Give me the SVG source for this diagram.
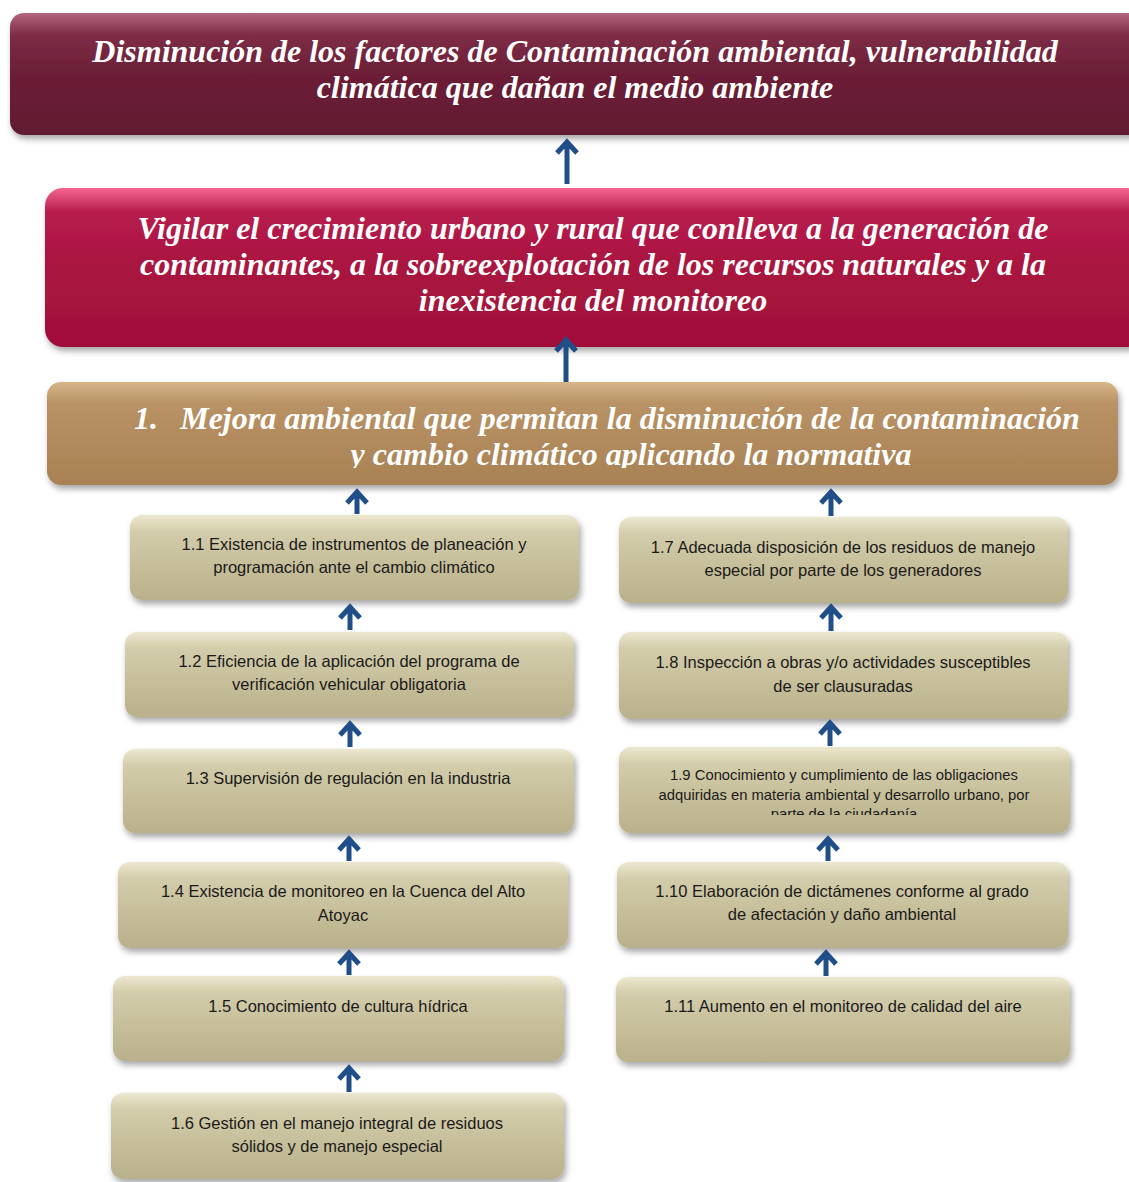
<svg xmlns="http://www.w3.org/2000/svg" width="1129" height="1182" viewBox="0 0 1129 1182">
<defs>
<linearGradient id="gTop" x1="0" y1="0" x2="0" y2="1">
<stop offset="0" stop-color="#b4677e"/><stop offset="0.18" stop-color="#7d2d46"/><stop offset="0.5" stop-color="#6c1f37"/><stop offset="1" stop-color="#611a31"/>
</linearGradient>
<linearGradient id="gMid" x1="0" y1="0" x2="0" y2="1">
<stop offset="0" stop-color="#f5668f"/><stop offset="0.15" stop-color="#b71c4d"/><stop offset="0.5" stop-color="#a9153f"/><stop offset="1" stop-color="#a10f3b"/>
</linearGradient>
<linearGradient id="gObj" x1="0" y1="0" x2="0" y2="1">
<stop offset="0" stop-color="#d7b68a"/><stop offset="0.2" stop-color="#b99366"/><stop offset="0.6" stop-color="#b08a5c"/><stop offset="1" stop-color="#a88254"/>
</linearGradient>
<linearGradient id="gAct" x1="0" y1="0" x2="0" y2="1">
<stop offset="0" stop-color="#ece8cf"/><stop offset="0.2" stop-color="#d3ccaa"/><stop offset="0.6" stop-color="#c6be99"/><stop offset="1" stop-color="#b9b08c"/>
</linearGradient>
<filter id="sh" x="-5%" y="-10%" width="110%" height="130%">
<feDropShadow dx="2" dy="4" stdDeviation="3" flood-color="#000" flood-opacity="0.35"/>
</filter>
<clipPath id="c3"><rect x="47" y="382" width="1071" height="86"/></clipPath>
<clipPath id="c9"><rect x="619" y="747" width="451" height="68"/></clipPath>
</defs>
<style>
.big{font-family:"Liberation Serif","Times New Roman",serif;font-weight:bold;font-style:italic;fill:#fff;text-anchor:middle;font-size:32px}
.num{text-anchor:start}
.act{font-family:"Liberation Sans",Arial,sans-serif;font-size:16.5px;fill:#1a1a1a;text-anchor:middle}
.sm{font-size:14.8px}
.box{filter:url(#sh)}
.arr{stroke:#1f4e89;stroke-width:5;fill:none;stroke-linecap:butt;stroke-linejoin:miter}
</style>

<g id="fin">
<rect class="box" x="10" y="13" width="1135" height="122" rx="14" fill="url(#gTop)"/>
<text class="big" x="575" y="62">Disminución de los factores de Contaminación ambiental, vulnerabilidad</text>
<text class="big" x="575" y="98">climática que dañan el medio ambiente</text>
</g>

<g id="proposito">
<rect class="box" x="45" y="188" width="1100" height="159" rx="18" fill="url(#gMid)"/>
<text class="big" x="593" y="239">Vigilar el crecimiento urbano y rural que conlleva a la generación de</text>
<text class="big" x="593" y="275">contaminantes, a la sobreexplotación de los recursos naturales y a la</text>
<text class="big" x="593" y="311">inexistencia del monitoreo</text>
</g>

<g id="componente1">
<rect class="box" x="47" y="382" width="1071" height="103" rx="14" fill="url(#gObj)"/>
<g clip-path="url(#c3)">
<text class="big num" x="134" y="429">1.</text>
<text class="big" x="630" y="429">Mejora ambiental que permitan la disminución de la contaminación</text>
<text class="big" x="631" y="465">y cambio climático aplicando la normativa</text>
</g>
</g>

<g id="a11">
<rect class="box" x="130" y="515" width="449" height="85" rx="12" fill="url(#gAct)"/>
<text class="act" x="354" y="550">1.1 Existencia de instrumentos de planeación y</text>
<text class="act" x="354" y="573">programación ante el cambio climático</text>
</g>
<g id="a12">
<rect class="box" x="125" y="632" width="449" height="85" rx="12" fill="url(#gAct)"/>
<text class="act" x="349" y="667">1.2 Eficiencia de la aplicación del programa de</text>
<text class="act" x="349" y="690">verificación vehicular obligatoria</text>
</g>
<g id="a13">
<rect class="box" x="123" y="749" width="451" height="84" rx="12" fill="url(#gAct)"/>
<text class="act" x="348" y="784">1.3 Supervisión de regulación en la industria</text>
</g>
<g id="a14">
<rect class="box" x="118" y="862" width="450" height="86" rx="12" fill="url(#gAct)"/>
<text class="act" x="343" y="897">1.4 Existencia de monitoreo en la Cuenca del Alto</text>
<text class="act" x="343" y="921">Atoyac</text>
</g>
<g id="a15">
<rect class="box" x="113" y="976" width="451" height="85" rx="12" fill="url(#gAct)"/>
<text class="act" x="338" y="1012">1.5 Conocimiento de cultura hídrica</text>
</g>
<g id="a16">
<rect class="box" x="111" y="1093" width="453" height="86" rx="12" fill="url(#gAct)"/>
<text class="act" x="337" y="1129">1.6 Gestión en el manejo integral de residuos</text>
<text class="act" x="337" y="1152">sólidos y de manejo especial</text>
</g>

<g id="a17">
<rect class="box" x="619" y="517" width="449" height="86" rx="12" fill="url(#gAct)"/>
<text class="act" x="843" y="553">1.7 Adecuada disposición de los residuos de manejo</text>
<text class="act" x="843" y="576">especial por parte  de los generadores</text>
</g>
<g id="a18">
<rect class="box" x="619" y="632" width="449" height="87" rx="12" fill="url(#gAct)"/>
<text class="act" x="843" y="668">1.8 Inspección a obras y/o actividades susceptibles</text>
<text class="act" x="843" y="692">de ser clausuradas</text>
</g>
<g id="a19">
<rect class="box" x="619" y="747" width="451" height="86" rx="12" fill="url(#gAct)"/>
<g clip-path="url(#c9)">
<text class="act sm" x="844" y="780">1.9 Conocimiento y cumplimiento de las obligaciones</text>
<text class="act sm" x="844" y="800">adquiridas en materia ambiental y desarrollo urbano, por</text>
<text class="act sm" x="844" y="819">parte de la ciudadanía</text>
</g>
</g>
<g id="a110">
<rect class="box" x="617" y="862" width="451" height="86" rx="12" fill="url(#gAct)"/>
<text class="act" x="842" y="897">1.10 Elaboración de dictámenes conforme al grado</text>
<text class="act" x="842" y="920">de afectación y daño ambiental</text>
</g>
<g id="a111">
<rect class="box" x="616" y="977" width="454" height="85" rx="12" fill="url(#gAct)"/>
<text class="act" x="843" y="1012">1.11 Aumento en el monitoreo de calidad del aire</text>
</g>

<g id="connectors">
<path class="arr" d="M567 184 V142 M557 153 L567 142 L577 153"/>
<path class="arr" d="M566 382 V340 M556 351 L566 340 L576 351"/>
<path class="arr" d="M357 514 V492 M347 503 L357 492 L367 503"/>
<path class="arr" d="M350 630 V607 M340 618 L350 607 L360 618"/>
<path class="arr" d="M350 747 V724 M340 735 L350 724 L360 735"/>
<path class="arr" d="M349 861 V839 M339 850 L349 839 L359 850"/>
<path class="arr" d="M349 975 V953 M339 964 L349 953 L359 964"/>
<path class="arr" d="M349 1092 V1068 M339 1079 L349 1068 L359 1079"/>
<path class="arr" d="M831 516 V492 M821 503 L831 492 L841 503"/>
<path class="arr" d="M831 631 V607 M821 618 L831 607 L841 618"/>
<path class="arr" d="M830 746 V723 M820 734 L830 723 L840 734"/>
<path class="arr" d="M828 861 V839 M818 850 L828 839 L838 850"/>
<path class="arr" d="M826 976 V953 M816 964 L826 953 L836 964"/>
</g>
</svg>
